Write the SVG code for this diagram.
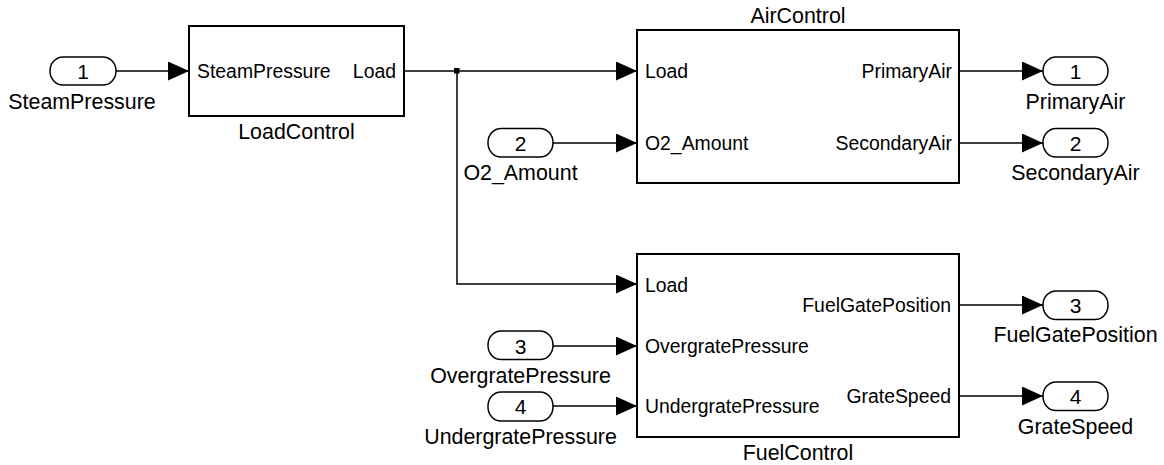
<svg xmlns="http://www.w3.org/2000/svg" width="1164" height="465" viewBox="0 0 1164 465">
<defs>
<style>
text{font-family:"Liberation Sans",Arial,sans-serif;fill:#000}
.blk{fill:#fff;stroke:#000;stroke-width:2}
.port{fill:#fff;stroke:#000;stroke-width:1.5}
.lbl{font-size:21.4px;text-anchor:middle}
.num{font-size:21px;text-anchor:middle}
.in{font-size:19.4px}
.out{font-size:19.4px;text-anchor:end}
.wire{fill:none;stroke:#000;stroke-width:1.5}
</style>
<marker id="arr" markerUnits="userSpaceOnUse" markerWidth="21" markerHeight="19" refX="21" refY="9.5" orient="auto">
<path d="M0,0 L21,9.5 L0,19 Z" fill="#000"/>
</marker>
</defs>
<rect width="1164" height="465" fill="#fff"/>
<g id="connectors">
<path class="wire" d="M116,71 H189" marker-end="url(#arr)"/>
<path class="wire" d="M404,71 H637" marker-end="url(#arr)"/>
<path class="wire" d="M457,71 V284 H637" marker-end="url(#arr)"/>
<rect x="454" y="68" width="5.5" height="5.5" fill="#000"/>
<path class="wire" d="M553,143 H637" marker-end="url(#arr)"/>
<path class="wire" d="M553,346 H637" marker-end="url(#arr)"/>
<path class="wire" d="M553,406 H637" marker-end="url(#arr)"/>
<path class="wire" d="M959,71 H1043" marker-end="url(#arr)"/>
<path class="wire" d="M959,143 H1043" marker-end="url(#arr)"/>
<path class="wire" d="M959,305 H1043" marker-end="url(#arr)"/>
<path class="wire" d="M959,396 H1043" marker-end="url(#arr)"/>
</g>
<g id="in1">
<rect class="port" x="50" y="57" width="66" height="28" rx="13" ry="14"/>
<text class="num" x="83" y="79">1</text>
<text class="lbl" x="82" y="109">SteamPressure</text>
</g>
<g id="in2">
<rect class="port" x="488" y="128.5" width="65" height="28.5" rx="13" ry="14"/>
<text class="num" x="520.5" y="150.5">2</text>
<text class="lbl" x="520.5" y="180">O2_Amount</text>
</g>
<g id="in3">
<rect class="port" x="488" y="331" width="65" height="28.5" rx="13" ry="14"/>
<text class="num" x="520.5" y="354">3</text>
<text class="lbl" x="520.5" y="383">OvergratePressure</text>
</g>
<g id="in4">
<rect class="port" x="488" y="392" width="65" height="29" rx="13" ry="14"/>
<text class="num" x="520.5" y="414">4</text>
<text class="lbl" x="520.5" y="444">UndergratePressure</text>
</g>
<g id="LoadControl">
<rect class="blk" x="189" y="26" width="215" height="90"/>
<text class="in" x="197" y="78">SteamPressure</text>
<text class="out" x="396" y="78">Load</text>
<text class="lbl" x="296.5" y="139">LoadControl</text>
</g>
<g id="AirControl">
<rect class="blk" x="637" y="30" width="322" height="153"/>
<text class="lbl" x="798" y="23">AirControl</text>
<text class="in" x="645" y="77.5">Load</text>
<text class="in" x="645" y="150">O2_Amount</text>
<text class="out" x="952" y="77.5">PrimaryAir</text>
<text class="out" x="952" y="150">SecondaryAir</text>
</g>
<g id="FuelControl">
<rect class="blk" x="637" y="254" width="322" height="183"/>
<text class="lbl" x="798" y="460">FuelControl</text>
<text class="in" x="645" y="291.5">Load</text>
<text class="in" x="645" y="353">OvergratePressure</text>
<text class="in" x="645" y="413">UndergratePressure</text>
<text class="out" x="951" y="312">FuelGatePosition</text>
<text class="out" x="951" y="403">GrateSpeed</text>
</g>
<g id="out1">
<rect class="port" x="1043" y="57" width="65" height="28" rx="13" ry="14"/>
<text class="num" x="1075.5" y="79">1</text>
<text class="lbl" x="1075.5" y="109">PrimaryAir</text>
</g>
<g id="out2">
<rect class="port" x="1043" y="128.5" width="65" height="28.5" rx="13" ry="14"/>
<text class="num" x="1075.5" y="150.5">2</text>
<text class="lbl" x="1075.5" y="180">SecondaryAir</text>
</g>
<g id="out3">
<rect class="port" x="1043" y="291" width="65" height="28.5" rx="13" ry="14"/>
<text class="num" x="1075.5" y="312.5">3</text>
<text class="lbl" x="1075.5" y="342">FuelGatePosition</text>
</g>
<g id="out4">
<rect class="port" x="1043" y="382" width="65" height="28.5" rx="13" ry="14"/>
<text class="num" x="1075.5" y="403.5">4</text>
<text class="lbl" x="1075.5" y="434">GrateSpeed</text>
</g>
</svg>
